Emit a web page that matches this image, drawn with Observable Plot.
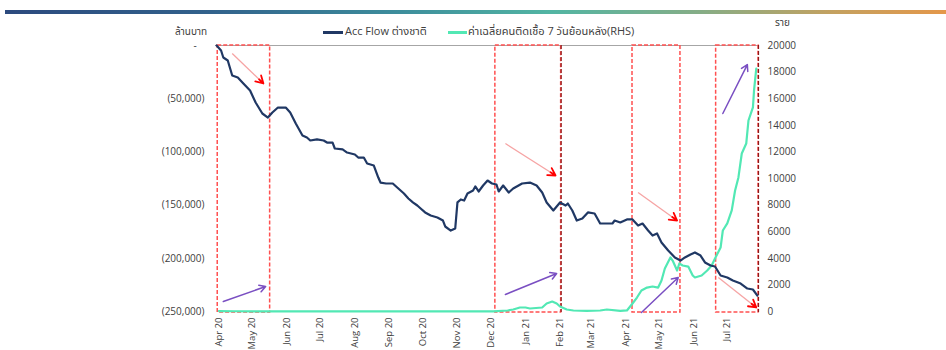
<!DOCTYPE html>
<html><head><meta charset="utf-8">
<script src="https://cdn.jsdelivr.net/npm/d3@7"></script>
<script src="https://cdn.jsdelivr.net/npm/@observablehq/plot@0.6"></script>
<style>
body{margin:0;background:#fff;font-family:"Open Sans","Noto Sans Thai","Noto Sans",sans-serif;}
#wrap{position:relative;width:946px;height:350px;overflow:hidden;background:#fff;}
#chart{position:absolute;left:0;top:0;}
.bar{position:absolute;left:5px;top:10px;width:941px;height:4px;background:linear-gradient(to right,#2c4a7e 0%,#32628c 22%,#3d8e9c 42%,#52b5a3 58%,#86ad86 74%,#c4a160 88%,#e4974a 100%);}
.lbl{position:absolute;font-size:10px;color:#404040;white-space:nowrap;line-height:12px;}
.leg{font-size:11px;}
.sw{position:absolute;height:3px;}
</style></head><body>
<div id="wrap">
  <div id="chart"></div>
  <div class="bar"></div>
  <div class="lbl" style="left:175px;top:25px;">ล้านบาท</div>
  <div class="lbl" style="left:775px;top:16px;">ราย</div>
  <div class="sw" style="left:323px;top:31px;width:20px;background:#203864;"></div>
  <div class="lbl leg" style="left:345px;top:25px;">Acc Flow ต่างชาติ</div>
  <div class="sw" style="left:448px;top:31px;width:19px;background:#52e8b4;"></div>
  <div class="lbl leg" style="left:468px;top:25px;">ค่าเฉลี่ยคนติดเชื้อ 7 วันย้อนหลัง(RHS)</div>
</div>
<script>
// ---- Data ----
const flowDates = ["2020-03-30","2020-04-03","2020-04-05","2020-04-09","2020-04-13","2020-04-18","2020-04-23","2020-04-29","2020-05-04","2020-05-10","2020-05-15","2020-05-19","2020-05-24","2020-05-31","2020-06-04","2020-06-09","2020-06-15","2020-06-19","2020-06-22","2020-06-28","2020-07-04","2020-07-07","2020-07-12","2020-07-14","2020-07-21","2020-07-25","2020-08-01","2020-08-04","2020-08-09","2020-08-12","2020-08-18","2020-08-22","2020-08-24","2020-08-29","2020-09-04","2020-09-08","2020-09-14","2020-09-18","2020-09-22","2020-09-26","2020-09-29","2020-10-03","2020-10-08","2020-10-14","2020-10-19","2020-10-21","2020-10-26","2020-10-30","2020-11-01","2020-11-04","2020-11-07","2020-11-10","2020-11-15","2020-11-17","2020-11-20","2020-11-24","2020-11-28","2020-12-02","2020-12-06","2020-12-08","2020-12-12","2020-12-17","2020-12-21","2020-12-29","2021-01-05","2021-01-11","2021-01-16","2021-01-20","2021-01-26","2021-02-01","2021-02-06","2021-02-08","2021-02-12","2021-02-16","2021-02-21","2021-02-26","2021-03-04","2021-03-09","2021-03-15","2021-03-20","2021-03-22","2021-03-27","2021-04-02","2021-04-07","2021-04-12","2021-04-16","2021-04-21","2021-04-25","2021-04-29","2021-05-03","2021-05-09","2021-05-15","2021-05-20","2021-05-24","2021-05-29","2021-06-02","2021-06-07","2021-06-11","2021-06-16","2021-06-20","2021-06-25","2021-07-01","2021-07-06","2021-07-13","2021-07-19","2021-07-24","2021-07-28"];
const flowValues = [0,-4700,-11300,-14100,-28200,-30100,-35700,-42300,-53600,-63900,-67700,-63000,-58300,-58300,-63000,-73300,-84600,-86500,-89300,-88300,-89300,-91200,-91200,-96800,-97700,-100600,-102400,-105300,-105300,-110900,-112800,-124100,-128800,-129700,-129700,-133500,-139100,-143800,-147500,-150400,-153200,-156900,-159800,-161600,-164500,-170100,-173900,-172000,-147500,-144700,-145700,-139100,-136300,-132500,-137200,-131600,-126900,-129700,-130600,-137200,-131600,-138200,-134400,-129700,-128800,-131600,-138200,-147500,-155100,-147500,-150400,-148500,-155100,-164500,-162600,-156900,-157900,-167300,-167300,-167300,-164500,-166300,-163500,-163500,-169200,-167300,-173900,-178600,-176700,-185100,-192700,-199200,-202100,-199200,-196400,-194500,-197400,-203900,-206800,-207700,-216200,-218000,-220900,-223700,-228400,-229300,-235000];

const caseDates = ["2020-04-01","2020-04-15","2020-05-01","2020-06-01","2020-09-01","2020-12-03","2020-12-16","2020-12-21","2020-12-27","2021-01-01","2021-01-05","2021-01-16","2021-01-20","2021-01-25","2021-01-29","2021-02-01","2021-02-07","2021-02-13","2021-02-25","2021-03-09","2021-03-15","2021-03-27","2021-04-02","2021-04-07","2021-04-11","2021-04-15","2021-04-20","2021-04-25","2021-04-30","2021-05-03","2021-05-06","2021-05-11","2021-05-13","2021-05-17","2021-05-19","2021-05-22","2021-05-27","2021-05-31","2021-06-02","2021-06-08","2021-06-13","2021-06-17","2021-06-20","2021-06-25","2021-06-27","2021-07-01","2021-07-05","2021-07-08","2021-07-11","2021-07-14","2021-07-18","2021-07-20","2021-07-24","2021-07-25","2021-07-27"];
const caseValues = [30,20,10,5,5,10,75,150,300,300,225,300,600,750,600,375,150,75,40,75,150,40,80,600,1050,1580,1800,1880,1800,2330,3230,4060,3830,3080,3610,3460,3380,2710,2560,2710,3080,3460,3990,4810,6090,6620,7600,9100,10080,11880,12630,14360,15340,16620,18270];

const leftTicks = [0,-50000,-100000,-150000,-200000,-250000];
const rightTicks = [0,2000,4000,6000,8000,10000,12000,14000,16000,18000,20000];
const monthTicks = ["2020-04-01","2020-05-01","2020-06-01","2020-07-01","2020-08-01","2020-09-01","2020-10-01","2020-11-01","2020-12-01","2021-01-01","2021-02-01","2021-03-01","2021-04-01","2021-05-01","2021-06-01","2021-07-01"];
const monthLabels = ["Apr 20","May 20","Jun 20","Jul 20","Aug 20","Sep 20","Oct 20","Nov 20","Dec 20","Jan 21","Feb 21","Mar 21","Apr 21","May 21","Jun 21","Jul 21"];

// annotation boxes (date ranges, full height)
const boxStart = ["2020-03-31","2020-12-05","2021-04-07","2021-06-21"];
const boxEnd   = ["2020-05-17","2021-02-02","2021-05-20","2021-07-29"];
const darkEdges = ["2021-02-02","2021-07-29"];
// annotation arrows, left-axis units
const redArrowFrom  = [["2020-04-13",-7500],["2020-12-14",-92100],["2021-04-12",-138100],["2021-06-23",-218000]];
const redArrowTo    = [["2020-05-11",-35700],["2021-01-28",-122200],["2021-05-17",-164500],["2021-07-27",-246200]];
const purpleArrowFrom = [["2020-04-05",-240600],["2020-12-14",-234000],["2021-04-15",-250900],["2021-06-27",-63900]];
const purpleArrowTo   = [["2020-05-13",-226500],["2021-01-29",-214300],["2021-05-18",-218000],["2021-07-19",-17900]];

// ---- Build ----
const P = d3.utcParse("%Y-%m-%d");
const RMAX = 20000, LMIN = -250000;
const toLeft = c => c / RMAX * (-LMIN) + LMIN;
const fromLeft = v => (v - LMIN) / (-LMIN) * RMAX;

const flow = flowDates.map((d,i)=>({date:P(d), v:flowValues[i]}));
const cases = caseDates.map((d,i)=>({date:P(d), v:toLeft(caseValues[i])}));
const boxes = boxStart.map((d,i)=>({x1:P(d), x2:P(boxEnd[i])}));
const mkArr = (from,to)=>from.map((f,i)=>({x1:P(f[0]), y1:f[1], x2:P(to[i][0]), y2:to[i][1]}));
const redArrows = mkArr(redArrowFrom, redArrowTo);
const purpleArrows = mkArr(purpleArrowFrom, purpleArrowTo);
const tickDates = monthTicks.map(P);
const labelOf = new Map(tickDates.map((d,i)=>[+d, monthLabels[i]]));

const leftFmt = v => v === 0 ? "-\u00a0\u00a0\u00a0" : "(" + d3.format(",")(-v) + ")";

function build(insets){
  return Plot.plot({
    width: 946, height: 350,
    marginLeft: 215, marginRight: 188, marginTop: 45, marginBottom: 39,
    style: {fontFamily: '"Open Sans","Noto Sans",sans-serif', fontSize: "10px", color: "#404040", background: "transparent"},
    x: {type: "utc", domain: [P("2020-03-29"), P("2021-07-29")]},
    y: {domain: [LMIN, 0]},
    marks: [
      Plot.axisY(leftTicks, {anchor: "left", tickFormat: leftFmt, tickSize: 0, tickPadding: 11, label: null}),
      Plot.axisY(rightTicks.map(toLeft), {anchor: "right", tickFormat: v => String(Math.round(fromLeft(v))), tickSize: 0, tickPadding: 9, label: null}),
      Plot.axisX(tickDates, {anchor: "bottom", tickFormat: d => labelOf.get(+d), tickRotate: -90, tickSize: 0, tickPadding: 6, fontSize: 9.5, label: null}),
      Plot.ruleY([0], {stroke: "#a6a6a6", strokeWidth: 1}),
      Plot.rect(boxes, {x1: "x1", x2: "x2", y1: 0, y2: -251000, fill: "none", stroke: "#ff5050", strokeWidth: 1.5, strokeDasharray: "4,2"}),
      Plot.ruleX(darkEdges.map(P), {y1: 0, y2: -251000, stroke: "#8b1a1a", strokeWidth: 1.2, strokeDasharray: "4,2"}),
      Plot.line(cases, {x: "date", y: "v", stroke: "#52e8b4", strokeWidth: 2.2, curve: "linear"}),
      Plot.line(flow, {x: "date", y: "v", stroke: "#203864", strokeWidth: 2.2, curve: "linear"}),
      Plot.link(redArrows, {x1: "x1", y1: "y1", x2: "x2", y2: "y2", stroke: "#f6a4a4", strokeWidth: 1.3}),
      ...redArrows.map((a,i)=>Plot.arrow([a], {x1: "x1", y1: "y1", x2: "x2", y2: "y2", stroke: "#ff0000", strokeWidth: 1.8, headLength: 7, insetStart: insets[i]})),
      Plot.arrow(purpleArrows, {x1: "x1", y1: "y1", x2: "x2", y2: "y2", stroke: "#7a4fc2", strokeWidth: 1.5, headLength: 7})
    ]
  });
}
let plot = build(redArrows.map(()=>0));
const sx = plot.scale("x"), sy = plot.scale("y");
const insets = redArrows.map(a => {
  const L = Math.hypot(sx.apply(a.x2)-sx.apply(a.x1), sy.apply(a.y2)-sy.apply(a.y1));
  return Math.max(0, L - 6);
});
plot = build(insets);
document.getElementById("chart").appendChild(plot);
</script>
</body></html>
